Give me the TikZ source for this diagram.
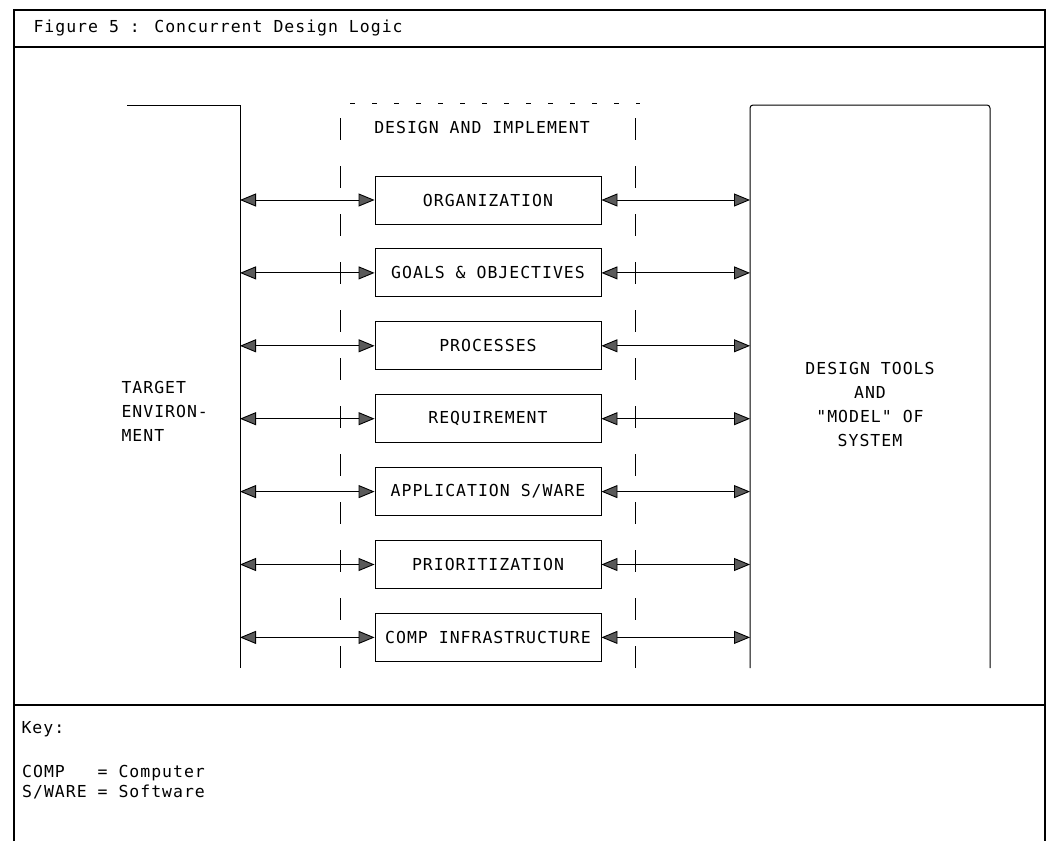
\documentclass[tikz,border=0pt]{standalone}
\usepackage{fontspec}
\setmainfont{DejaVu Sans Mono}[LetterSpace=6, Ligatures=TeXOff]
\usepackage{tikz}
\usetikzlibrary{arrows.meta, positioning}
\definecolor{TipGrey}{RGB}{90,90,90}

\tikzset{
  stagebox/.style={draw, line width=0.9pt, minimum width=226pt, minimum height=48pt, inner sep=2pt},
  twoway/.style={{Triangle[length=16pt, width=13pt, fill=TipGrey]}-{Triangle[length=16pt, width=13pt, fill=TipGrey]}, line width=0.9pt},
  frameline/.style={line width=1.2pt},
  sideline/.style={line width=1pt},
  dashside/.style={line width=1pt, dash pattern=on 22pt off 26pt},
}

\begin{document}
\begin{tikzpicture}[x=1pt, y=-1pt, font=\fontsize{16.5pt}{24pt}\selectfont]
    \useasboundingbox (0,0) rectangle (1052,841);

    % outer frame, header and key
    \draw[frameline] (14,841) -- (14,10) -- (1045,10) -- (1045,841);
    \draw[frameline] (14,47) -- (1045,47);
    \draw[frameline] (14,705) -- (1045,705);
    \node[anchor=west] (title) at (30,28) {Figure 5 : Concurrent Design Logic};
    \node[anchor=west] (keyhead) at (18,729) {Key:};
    \node[anchor=north west, align=left, inner sep=0pt, font=\fontsize{16.5pt}{20pt}\selectfont] (keylist) at (22,765) {COMP\ \ \ = Computer\\S/WARE = Software};

    % target environment
    \coordinate (envR) at (240,105);
    \draw[sideline] (127,105) -- (envR) -- (240,668);
    \node[anchor=west, align=left] (target) at (118,411) {TARGET\\ENVIRON-\\MENT};

    % design and implement band
    \coordinate (bandL) at (340,118);
    \coordinate (bandR) at (635,118);
    \draw[line width=1pt, dash pattern=on 5pt off 17pt] (350,103) -- (640,103);
    \draw[dashside] (bandL) -- (340,668);
    \draw[dashside] (bandR) -- (635,668);
    \node (band) at (482,127) {DESIGN AND IMPLEMENT};

    % design tools
    \coordinate (toolsL) at (750,105);
    \draw[sideline, rounded corners=3pt] (750,668) -- (toolsL) -- (990,105) -- (990,668);
    \node[align=center] (tools) at (870,404) {DESIGN TOOLS\\AND\\"MODEL" OF\\SYSTEM};

    % stages
    \node[stagebox] (org) at (488,200) {ORGANIZATION};
    \node[stagebox, below=24pt of org] (goals) {GOALS \& OBJECTIVES};
    \node[stagebox, below=24pt of goals] (proc) {PROCESSES};
    \node[stagebox, below=24pt of proc] (req) {REQUIREMENT};
    \node[stagebox, below=24pt of req] (appsw) {APPLICATION S/WARE};
    \node[stagebox, below=24pt of appsw] (prio) {PRIORITIZATION};
    \node[stagebox, below=24pt of prio] (infra) {COMP INFRASTRUCTURE};

    \draw[twoway] (envR |- org) -- (org.west);
    \draw[twoway] (org.east) -- (toolsL |- org);
    \draw[twoway] (envR |- goals) -- (goals.west);
    \draw[twoway] (goals.east) -- (toolsL |- goals);
    \draw[twoway] (envR |- proc) -- (proc.west);
    \draw[twoway] (proc.east) -- (toolsL |- proc);
    \draw[twoway] (envR |- req) -- (req.west);
    \draw[twoway] (req.east) -- (toolsL |- req);
    \draw[twoway] (envR |- appsw) -- (appsw.west);
    \draw[twoway] (appsw.east) -- (toolsL |- appsw);
    \draw[twoway] (envR |- prio) -- (prio.west);
    \draw[twoway] (prio.east) -- (toolsL |- prio);
    \draw[twoway] (envR |- infra) -- (infra.west);
    \draw[twoway] (infra.east) -- (toolsL |- infra);
\end{tikzpicture}
\end{document}
